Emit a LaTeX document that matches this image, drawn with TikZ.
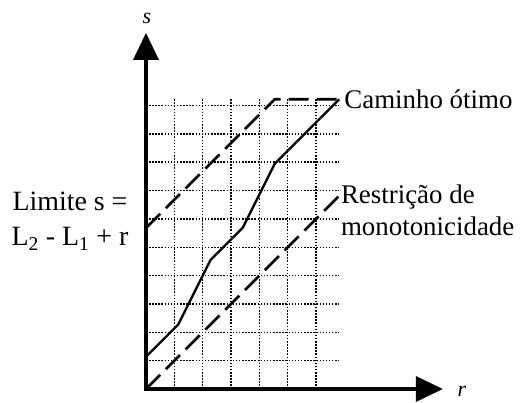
\documentclass[tikz,border=0pt]{standalone}
\usepackage{fontspec}
\setmainfont{Liberation Serif}
\usetikzlibrary{arrows.meta}
\begin{document}
\begin{tikzpicture}[x=32.2bp,y=32.2bp,line join=round,
  txt/.style={font=\fontsize{27}{32}\selectfont,inner sep=0pt},
  axislbl/.style={font=\fontsize{22}{24}\selectfont\itshape,inner sep=0pt},
  bound/.style={line width=2.6bp,dash pattern=on 20bp off 8bp}]
  \useasboundingbox (-4.534,-0.404) rectangle (11.646,12.081);
  % grid of the cost matrix
  \draw[line width=1.5bp,dash pattern=on 1.5bp off 1.6bp] (0,0) grid (6,9);
  % axes
  \coordinate (O) at (0,0);
  \coordinate (S) at (0,11.06);
  \coordinate (R) at (9.22,0);
  \draw[line width=3.5bp,line cap=rect,-{Triangle[width=25bp,length=27bp]}] (O) -- (S);
  \draw[line width=3.5bp,line cap=rect,-{Triangle[width=25bp,length=27bp]}] (O) -- (R);
  \node[axislbl] (slbl) at (0.03,11.52) {s};
  \node[axislbl] (rlbl) at (9.81,-0.06) {r};
  % limits
  \coordinate (U0) at (0,5);
  \coordinate (U1) at (4,9);
  \coordinate (U2) at (6,9);
  \coordinate (D1) at (6,6);
  \draw[bound] (U0) -- (U1) -- (U2);
  \draw[bound] (O) -- (D1);
  % optimal path
  \draw[line width=2.3bp] (0,1) -- (1,2) -- (2,4) -- (3,5) -- (4,7) -- (U2);
  % labels
  \node[txt,anchor=west] (cam) at ([xshift=5bp]U2) {Caminho ótimo};
  \node[txt,anchor=west,align=left] (mono) at (6.05,5.55) {Restrição de\\monotonicidade};
  \node[txt,align=center,font=\fontsize{28}{36}\selectfont] (lim) at (-2.36,5.22)
    {Limite s =\\L\textsubscript{2} - L\textsubscript{1} + r};
\end{tikzpicture}
\end{document}
